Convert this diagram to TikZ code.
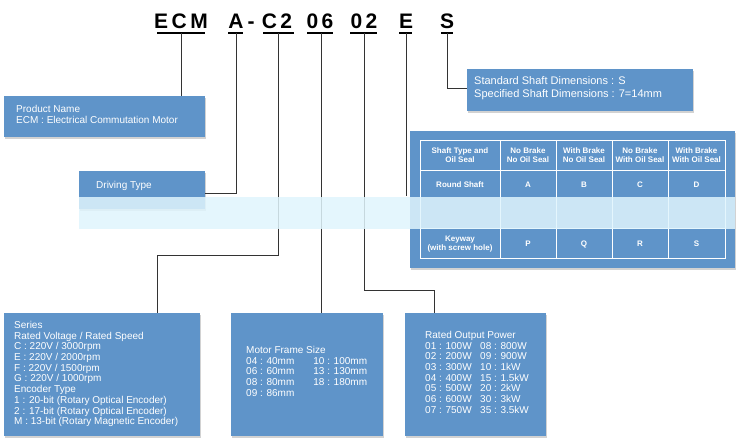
\documentclass[tikz,border=0pt]{standalone}
\usepackage{fontspec}
\setmainfont{Liberation Sans}
\usetikzlibrary{shadows}
\definecolor{boxblue}{RGB}{95,148,201}
\tikzset{
  box/.style={draw=none,fill=boxblue,anchor=north west,inner sep=0pt,drop shadow={opacity=0.35,shadow xshift=1pt,shadow yshift=-1.5pt}},
  btxt/.style={text=white,align=left,anchor=north west,inner sep=0pt,font=\fontsize{10}{10.7}\selectfont},
  code/.style={font=\fontsize{21}{21}\selectfont\bfseries,inner sep=0pt,anchor=base},
  uline/.style={line width=1.3pt},
  conn/.style={line width=0.7pt,black!80},
  cell/.style={text=white,align=center,font=\fontsize{8}{8.5}\selectfont\bfseries,inner sep=0pt}
}
\begin{document}
\begin{tikzpicture}[x=1pt,y=-1pt]
\useasboundingbox[fill=white] (0,0) rectangle (750,444);
% code letters
\node[code] (cECM) at (181,29) {E\,C\,M};
\node[code] (cA) at (236,29) {A};
\node[code] (cdash) at (251,29) {-};
\node[code] (cC2) at (277,29) {C\,2};
\node[code] (c06) at (320,29) {0\,6};
\node[code] (c02) at (364,29) {0\,2};
\node[code] (cE) at (406,29) {E};
\node[code] (cS) at (447,29) {S};
\draw[uline] (157,33)--(205,33) (228,33)--(243,33) (263,33)--(294,33) (307,33)--(333,33) (350,33)--(377,33) (399,33)--(412,33) (441,33)--(453,33);
% boxes
\node[box,minimum width=201,minimum height=41] (prod) at (4,96) {};
\node[btxt] (prodt) at (16,105) {Product Name\\ECM : Electrical Commutation Motor};
\node[box,minimum width=126,minimum height=38] (drive) at (79,171) {};
\node[btxt] (drivet) at (96,181) {Driving Type};
\node[box,minimum width=226,minimum height=42] (shaft) at (467,69) {};
\node[btxt,font=\fontsize{11}{13}\selectfont] (shaftt) at (474,76) {Standard Shaft Dimensions : S\\Specified Shaft Dimensions : 7=14mm};
\node[box,minimum width=325,minimum height=137] (tab) at (410,131) {};
\node[box,minimum width=196,minimum height=123] (series) at (4,313) {};
\node[btxt] (seriest) at (14,321) {Series\\Rated Voltage / Rated Speed\\C : 220V / 3000rpm\\E : 220V / 2000rpm\\F : 220V / 1500rpm\\G : 220V / 1000rpm\\Encoder Type\\1 : 20-bit (Rotary Optical Encoder)\\2 : 17-bit (Rotary Optical Encoder)\\M : 13-bit (Rotary Magnetic Encoder)};
\node[box,minimum width=152,minimum height=123] (frame) at (231,313) {};
\node[btxt] (framet) at (246,346) {Motor Frame Size\\04 : 40mm\hspace{19pt}10 : 100mm\\06 : 60mm\hspace{19pt}13 : 130mm\\08 : 80mm\hspace{19pt}18 : 180mm\\09 : 86mm};
\node[box,minimum width=141,minimum height=123] (power) at (405,313) {};
\node[btxt] (powert) at (425,331) {Rated Output Power};
\node[btxt] (powerl) at (425,342) {01 : 100W\\02 : 200W\\03 : 300W\\04 : 400W\\05 : 500W\\06 : 600W\\07 : 750W};
\node[btxt] (powerr) at (480,342) {08 : 800W\\09 : 900W\\10 : 1kW\\15 : 1.5kW\\20 : 2kW\\30 : 3kW\\35 : 3.5kW};
% table grid
\draw[white,line width=0.8pt] (420,140) rectangle (725,258);
\foreach \x in {500,556,612,668} \draw[white,line width=0.8pt] (\x,140)--(\x,258);
\draw[white,line width=0.8pt] (420,170)--(725,170) (420,228)--(725,228);
\node[cell] (h0) at (460,155) {Shaft Type and\\Oil Seal};
\node[cell] (h1) at (528,155) {No Brake\\No Oil Seal};
\node[cell] (h2) at (584,155) {With Brake\\No Oil Seal};
\node[cell] (h3) at (640,155) {No Brake\\With Oil Seal};
\node[cell] (h4) at (696.5,155) {With Brake\\With Oil Seal};
\node[cell] (r0) at (460,185) {Round Shaft};
\node[cell] (rA) at (528,185) {A};
\node[cell] (rB) at (584,185) {B};
\node[cell] (rC) at (640,185) {C};
\node[cell] (rD) at (696.5,185) {D};
\node[cell] (k0) at (460,244) {Keyway\\(with screw hole)};
\node[cell] (kP) at (528,244) {P};
\node[cell] (kQ) at (584,244) {Q};
\node[cell] (kR) at (640,244) {R};
\node[cell] (kS) at (696.5,244) {S};
% connectors
\draw[conn] (cECM.south |- 0,33) -- (prod.north -| cECM.south);
\coordinate (aend) at (236,193);
\draw[conn] (236,33) -- (aend) -- (drive.east |- aend);
\draw[conn] (278,33) -- (278,255) -- (157,255) -- (157,313);
\draw[conn] (321,33) -- (frame.north -| 321,0);
\draw[conn] (364,33) -- (364,290) -- (434,290) -- (434,313);
\coordinate (eend) at (406,196);
\draw[conn] (406,33) -- (eend);
\draw[conn] (447,33) -- (447,88) -- (shaft.west |- 0,88);
% obscuring light band
\fill[white!88!cyan,opacity=0.85] (79,197) rectangle (735,229);
\end{tikzpicture}
\end{document}
